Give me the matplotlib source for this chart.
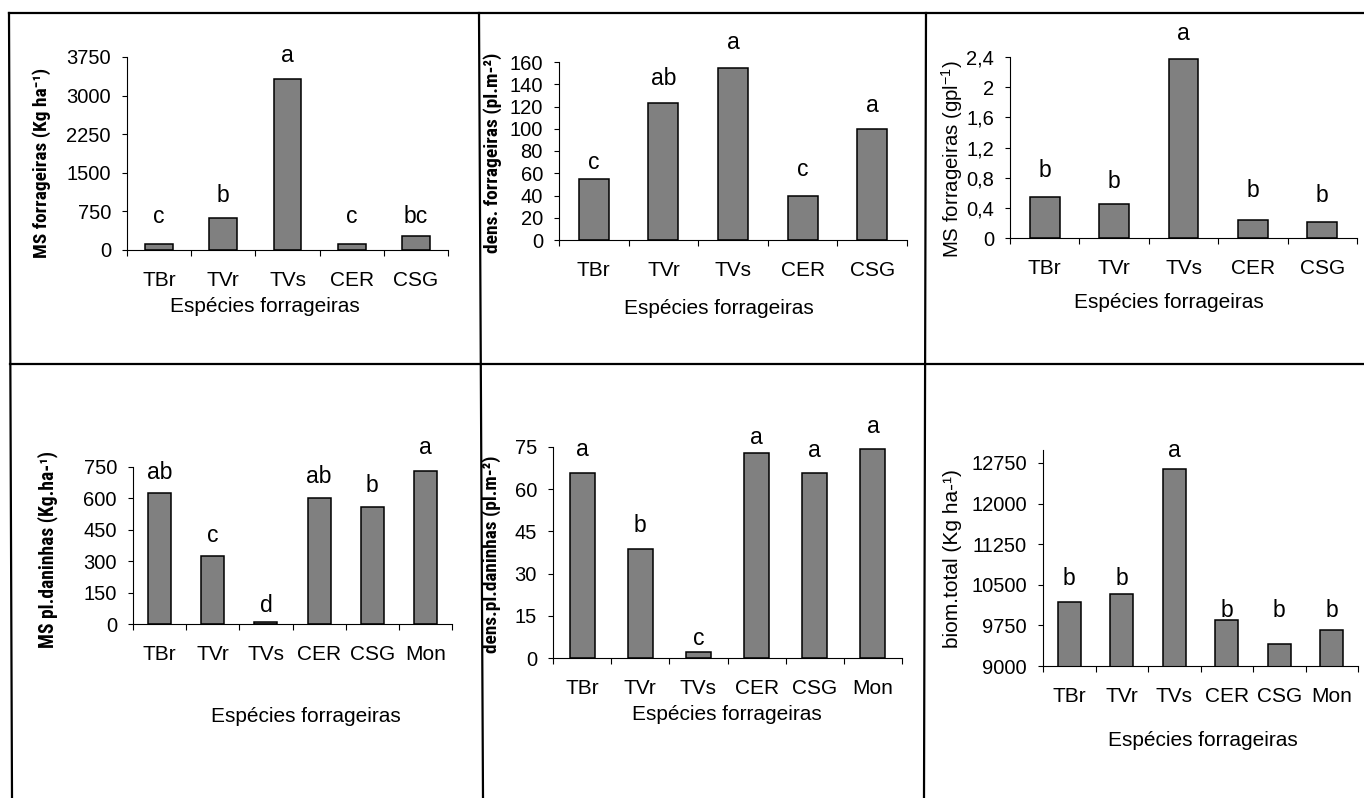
import matplotlib
matplotlib.use('Agg')
import matplotlib.pyplot as plt
from matplotlib.lines import Line2D
from matplotlib import font_manager as fm
from matplotlib.font_manager import FontProperties
from matplotlib.ft2font import FT2Font

# ---------------- data ----------------
cats5 = ['TBr', 'TVr', 'TVs', 'CER', 'CSG']
cats6 = ['TBr', 'TVr', 'TVs', 'CER', 'CSG', 'Mon']

ms_forrageiras = [120, 620, 3320, 120, 270]
ms_forrageiras_letters = ['c', 'b', 'a', 'c', 'bc']
ms_forrageiras_ticks = [0, 750, 1500, 2250, 3000, 3750]

dens_forrageiras = [55, 123, 155, 40, 100]
dens_forrageiras_letters = ['c', 'ab', 'a', 'c', 'a']
dens_forrageiras_ticks = [0, 20, 40, 60, 80, 100, 120, 140, 160]

ms_forr_planta = [0.55, 0.45, 2.37, 0.24, 0.21]
ms_forr_planta_letters = ['b', 'b', 'a', 'b', 'b']
ms_forr_planta_ticks = [0, 0.4, 0.8, 1.2, 1.6, 2.0, 2.4]
ms_forr_planta_ticklabels = ['0', '0,4', '0,8', '1,2', '1,6', '2', '2,4']

ms_daninhas = [626, 325, 11, 602, 559, 731]
ms_daninhas_letters = ['ab', 'c', 'd', 'ab', 'b', 'a']
ms_daninhas_ticks = [0, 150, 300, 450, 600, 750]

dens_daninhas = [65.8, 38.7, 2.1, 72.9, 65.8, 74.3]
dens_daninhas_letters = ['a', 'b', 'c', 'a', 'a', 'a']
dens_daninhas_ticks = [0, 15, 30, 45, 60, 75]

biom_total = [10180, 10330, 12640, 9850, 9405, 9665]
biom_total_letters = ['b', 'b', 'a', 'b', 'b', 'b']
biom_total_ticks = [9000, 9750, 10500, 11250, 12000, 12750]

# ---------------- fonts ----------------
plt.rcParams['font.family'] = ['Liberation Sans', 'DejaVu Sans']
plt.rcParams['mathtext.fontset'] = 'custom'
plt.rcParams['mathtext.rm'] = 'Liberation Sans'
plt.rcParams['mathtext.it'] = 'Liberation Sans'


def _is_bold(f):
    w = f.weight
    if isinstance(w, str):
        return w in ('bold', 'heavy', 'black', 'demibold', 'semibold', 'extra bold')
    return w >= 600


def _is_narrow(f):
    nm = f.name.lower()
    st = f.stretch
    if 'narrow' in nm or 'condensed' in nm:
        return True
    if isinstance(st, str):
        return 'condensed' in st
    return st < 500


def find_narrow_bold():
    prefs = ['liberation sans narrow', 'arial narrow', 'roboto condensed', 'dejavu sans',
             'open sans', 'noto sans', 'lato', 'inter', 'roboto']
    cands = [f for f in fm.fontManager.ttflist
             if _is_bold(f) and _is_narrow(f) and f.style == 'normal']
    for p in prefs:
        for f in cands:
            if f.name.lower().startswith(p):
                return f.fname
    if cands:
        return cands[0].fname
    return None


NARROW_FILE = find_narrow_bold()
if NARROW_FILE:
    NARROW_PROP = FontProperties(fname=NARROW_FILE)
    try:
        _cmap = FT2Font(NARROW_FILE).get_charmap()
    except Exception:
        _cmap = {}
else:
    NARROW_PROP = FontProperties(family='Liberation Sans', weight='bold')
    _cmap = {}
HAS_SUPMINUS = 0x207B in _cmap

W, H = 1364, 798
fig = plt.figure(figsize=(W / 100, H / 100), dpi=100)
fig.patch.set_facecolor('white')

PX = 0.72  # points per pixel


def fx(x):
    return x / W


def fy(y):
    return 1 - y / H


sup = '⁻' if HAS_SUPMINUS else '-'

panels = [
    dict(cats=cats5, vals=ms_forrageiras, letters=ms_forrageiras_letters,
         ticks=ms_forrageiras_ticks, ticklabels=None, ylim=(0, 3750),
         box=(127, 448, 250, 57), ylabel='MS forrageiras (Kg ha' + sup + '¹)', bold=True,
         ylpos=(42, 163), ylen=190, xlpos=(265, 307), off=[21, 16, 17, 21, 13]),
    dict(cats=cats5, vals=dens_forrageiras, letters=dens_forrageiras_letters,
         ticks=dens_forrageiras_ticks, ticklabels=None, ylim=(0, 160),
         box=(559, 907, 240, 62), ylabel='dens. forrageiras (pl.m-²)', bold=True,
         ylpos=(493, 153), ylen=200, xlpos=(719, 308), off=[10, 18, 19, 19, 17]),
    dict(cats=cats5, vals=ms_forr_planta, letters=ms_forr_planta_letters,
         ticks=ms_forr_planta_ticks, ticklabels=ms_forr_planta_ticklabels, ylim=(0, 2.4),
         box=(1010, 1357, 238, 57), ylabel='MS forrageiras (gpl$^{-1}$)', bold=False,
         ylpos=(952, 159), ylen=198, xlpos=(1169, 303), off=[20, 16, 19, 23, 20]),
    dict(cats=cats6, vals=ms_daninhas, letters=ms_daninhas_letters,
         ticks=ms_daninhas_ticks, ticklabels=None, ylim=(0, 750),
         box=(133, 452, 624, 467), ylabel='MS pl.daninhas (Kg.ha-¹)', bold=True,
         ylpos=(48, 550), ylen=197, xlpos=(306, 717), off=[14, 14, 10, 15, 15, 17]),
    dict(cats=cats6, vals=dens_daninhas, letters=dens_daninhas_letters,
         ticks=dens_daninhas_ticks, ticklabels=None, ylim=(0, 75),
         box=(553, 902, 658, 447), ylabel='dens.pl.daninhas (pl.m-²)', bold=True,
         ylpos=(492, 554), ylen=198, xlpos=(727, 715), off=[17, 17, 7, 9, 16, 16]),
    dict(cats=cats6, vals=biom_total, letters=biom_total_letters,
         ticks=biom_total_ticks, ticklabels=None, ylim=(9000, 12990),
         box=(1043, 1358, 666, 450), ylabel='biom.total (Kg ha-¹)', bold=False,
         ylpos=(952, 559), ylen=179, xlpos=(1203, 741), off=[17, 9, 12, 3, 27, 13]),
]

renderer = fig.canvas.get_renderer()

for p in panels:
    l, r, y0, yt = p['box']
    ax = fig.add_axes([fx(l), fy(y0), (r - l) / W, (y0 - yt) / H])
    n = len(p['cats'])
    xs = [i + 0.5 for i in range(n)]
    ax.bar(xs, p['vals'], width=0.43, color='#808080', edgecolor='black',
           linewidth=1.1, zorder=2)
    ax.set_xlim(0, n)
    ax.set_ylim(*p['ylim'])
    for s in ('top', 'right'):
        ax.spines[s].set_visible(False)
    for s in ('left', 'bottom'):
        ax.spines[s].set_linewidth(0.8)
        ax.spines[s].set_color('black')
    # x ticks at category boundaries, labels at centres
    ax.set_xticks(range(n + 1))
    ax.set_xticklabels([])
    ax.set_xticks(xs, minor=True)
    ax.set_xticklabels(p['cats'], minor=True)
    ax.tick_params(axis='x', which='major', direction='out', length=4.5, width=0.8)
    ax.tick_params(axis='x', which='minor', length=0, pad=22, labelsize=15)
    for t in ax.get_xticklabels(minor=True):
        t.set_va('center')
    # y ticks
    ax.set_yticks(p['ticks'])
    if p['ticklabels'] is None:
        ax.set_yticklabels([str(t) for t in p['ticks']])
    else:
        ax.set_yticklabels(p['ticklabels'])
    ax.tick_params(axis='y', direction='out', length=3.6, width=0.8, pad=8, labelsize=14.5)
    # letters
    for x, v, lt, o in zip(xs, p['vals'], p['letters'], p['off']):
        ax.annotate(lt, xy=(x, v), xytext=(0, o * PX), textcoords='offset points',
                    ha='center', va='baseline', fontsize=16.5, annotation_clip=False)
    # labels
    if p['bold']:
        prop = NARROW_PROP.copy()
        prop.set_size(15)
        if not NARROW_FILE:
            prop.set_weight('bold')
        ax.set_ylabel(p['ylabel'], fontproperties=prop, va='center', ha='center')
    else:
        ax.set_ylabel(p['ylabel'], fontsize=15, va='center', ha='center')
    ax.yaxis.set_label_coords(fx(p['ylpos'][0]), fy(p['ylpos'][1]),
                              transform=fig.transFigure)
    # fit label length to the reference extent
    lab = ax.yaxis.label
    ext = lab.get_window_extent(renderer)
    if ext.height > 0:
        lab.set_fontsize(lab.get_fontsize() * p['ylen'] / ext.height)
    ax.set_xlabel('Espécies forrageiras', fontsize=15, va='center')
    ax.xaxis.set_label_coords(fx(p['xlpos'][0]), fy(p['xlpos'][1]),
                              transform=fig.transFigure)

# panel frame lines
frame = [((9, 13), (1364, 13)), ((10, 364), (1364, 364)),
         ((9, 13), (12, 798)), ((479, 13), (483, 798)), ((926, 13), (924, 798))]
for (x1, y1), (x2, y2) in frame:
    fig.add_artist(Line2D([fx(x1), fx(x2)], [fy(y1), fy(y2)], color='black',
                          linewidth=1.6, transform=fig.transFigure))

fig.savefig('out.png', dpi=100, facecolor='white')
